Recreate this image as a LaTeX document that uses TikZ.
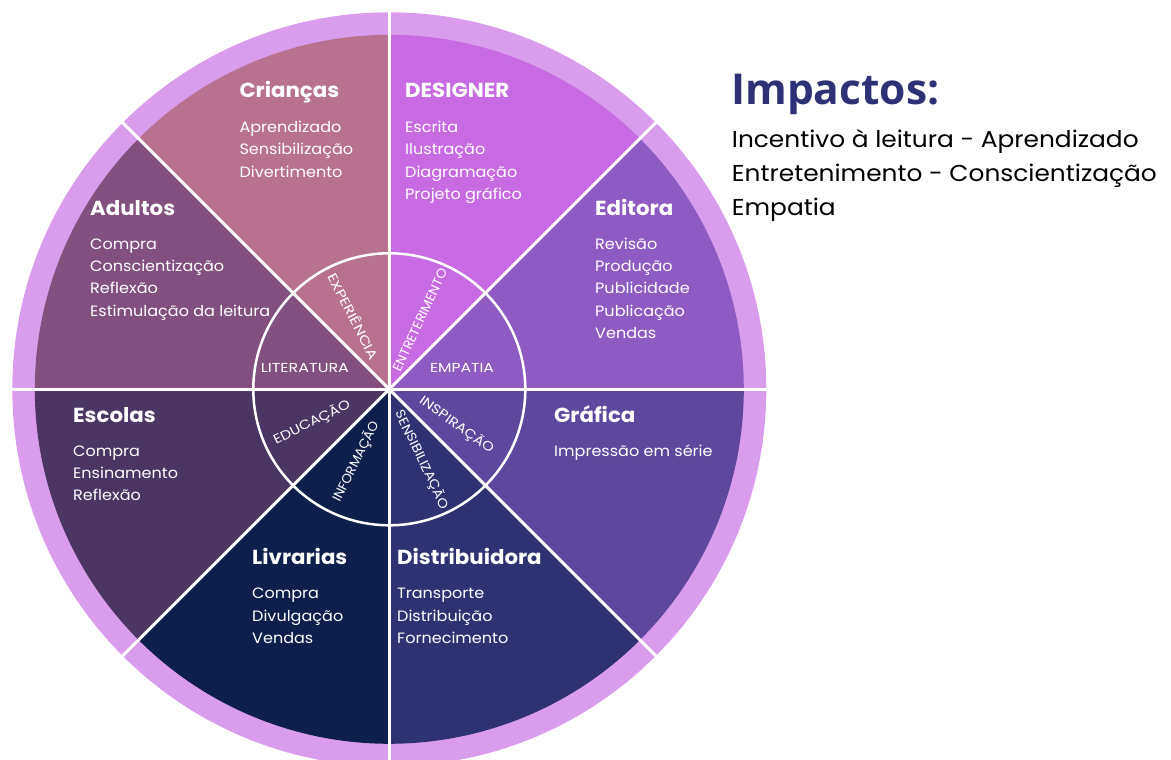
\documentclass[tikz,border=0pt]{standalone}
\usepackage{graphicx}
\usepackage{fontspec}
\newfontfamily\popitem{Poppins}[FakeStretch=1.07]
\newfontfamily\poptitle{Poppins}[FakeStretch=1.05]
\newfontfamily\popin{Poppins}
\newfontfamily\popright{Poppins}[FakeStretch=1.08]
\newfontfamily\osans{Open Sans}
\newcommand\wlbl[2]{\resizebox{#1pt}{\height}{#2}}
\definecolor{ringc}{HTML}{DA9CEC}
\definecolor{cEditora}{HTML}{8E5BC2}
\definecolor{cDesigner}{HTML}{C86BE3}
\definecolor{cCriancas}{HTML}{B87290}
\definecolor{cAdultos}{HTML}{834F7E}
\definecolor{cEscolas}{HTML}{4A3565}
\definecolor{cLivrarias}{HTML}{0F1F4D}
\definecolor{cDistrib}{HTML}{2F3272}
\definecolor{cGrafica}{HTML}{5D489E}
\definecolor{impc}{HTML}{2E3175}
\begin{document}
\begin{tikzpicture}[x=1pt,y=1pt,
  title/.style={anchor=base west, inner sep=0pt, text=white, font=\poptitle\bfseries\fontsize{20.3}{24}\selectfont},
  item/.style={anchor=base west, inner sep=0pt, text=white, font=\popitem\fontsize{15}{17}\selectfont},
  innerlbl/.style={inner sep=0pt, text=white, font=\popin\fontsize{13}{14}\selectfont},
  rtext/.style={anchor=base west, inner sep=0pt, text=black, font=\popright\fontsize{23}{27}\selectfont},
  sep/.style={white, line width=3pt},
]
\useasboundingbox (0,0) rectangle (1171,-760);
\begin{scope}[shift={(389.3,-389.3)}]
  \fill[ringc] (0,0) circle[radius=377pt];
  \foreach \a/\c in {0/cEditora,45/cDesigner,90/cCriancas,135/cAdultos,180/cEscolas,225/cLivrarias,270/cDistrib,315/cGrafica}{
    \fill[\c] (0,0) -- (\a:354.5pt) arc[start angle=\a, end angle=\a+45, radius=354.5pt] -- cycle;
  }
  \coordinate (ctr) at (0,0);
  \foreach \a [count=\k] in {0,45,...,315}{
    \coordinate (rim\k) at (\a:380pt);
    \draw[sep] (ctr) -- (rim\k);
  }
  \draw[white, line width=2.5pt] (ctr) circle[radius=136pt];
\end{scope}
% sector titles and items: title / x / title baseline / first item baseline / items
\foreach \t/\x/\y/\f/\items [count=\i] in {
  Crianças/239.3/97.3/132.3/{Aprendizado,Sensibilização,Divertimento},
  DESIGNER/405/97.3/132.3/{Escrita,Ilustração,Diagramação,Projeto gráfico},
  Adultos/90/215.5/249.1/{Compra,Conscientização,Reflexão,Estimulação da leitura},
  Editora/595/215.5/249.1/{Revisão,Produção,Publicidade,Publicação,Vendas},
  Escolas/73/422.5/456.1/{Compra,Ensinamento,Reflexão},
  Gráfica/554/422.5/456.1/{Impressão em série},
  Livrarias/252/564.5/598.6/{Compra,Divulgação,Vendas},
  Distribuidora/397/564.5/598.6/{Transporte,Distribuição,Fornecimento}}{
  \node[title] (t\i) at (\x,-\y) {\t};
  \foreach \it [count=\j] in \items {
    \node[item] (t\i-\j) at ({\x},{-(\f+22.4*(\j-1))}) {\it};
  }
}
% inner labels
\node[innerlbl] (lit) at (305,-368) {\wlbl{88}{LITERATURA}};
\node[innerlbl] (emp) at (462,-368) {\wlbl{64}{EMPATIA}};
\node[innerlbl, rotate=-63] (exp) at (354,-316) {\wlbl{95}{EXPERIÊNCIA}};
\node[innerlbl, rotate=65] (ent) at (420,-320) {\wlbl{112}{ENTRETERIMENTO}};
\node[innerlbl, rotate=26.5] (edu) at (312,-422.5) {\wlbl{84}{EDUCAÇÃO}};
\node[innerlbl, rotate=63.7] (inf) at (356,-461.7) {\wlbl{88}{INFORMAÇÃO}};
\node[innerlbl, rotate=-64.5] (sen) at (422,-460) {\wlbl{108}{SENSIBILIZAÇÃO}};
\node[innerlbl, rotate=-35.5] (insp) at (456.7,-425) {\wlbl{88}{INSPIRAÇÃO}};
% right text
\node[anchor=base west, inner sep=0pt, text=impc, font=\osans\bfseries\fontsize{42.5}{48}\selectfont] (imp) at (731,-105) {Impactos:};
\node[rtext] (l1) at (731.7,-147.7) {Incentivo à leitura - Aprendizado};
\node[rtext] (l2) at (731.7,-181.2) {Entretenimento - Conscientização};
\node[rtext] (l3) at (731.7,-215.7) {Empatia};
\end{tikzpicture}
\end{document}
